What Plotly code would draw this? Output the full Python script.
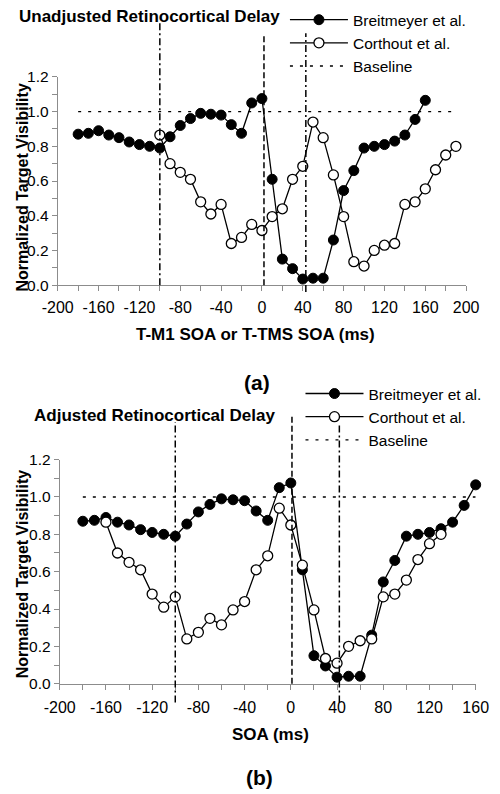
import plotly.graph_objects as go

W, H = 500, 794

# ---------------- data ----------------
soa_breitmeyer = [-180, -170, -160, -150, -140, -130, -120, -110, -100, -90, -80, -70, -60, -50, -40,
                  -30, -20, -10, 0, 10, 20, 30, 40, 50, 60, 70, 80, 90, 100, 110, 120, 130, 140, 150, 160]
vis_breitmeyer = [0.87, 0.875, 0.89, 0.865, 0.85, 0.825, 0.81, 0.80, 0.79, 0.855, 0.92, 0.96, 0.99, 0.985,
                  0.98, 0.925, 0.875, 1.05, 1.075, 0.61, 0.15, 0.095, 0.035, 0.04, 0.04, 0.26, 0.545, 0.66,
                  0.79, 0.80, 0.81, 0.83, 0.865, 0.955, 1.065]

soa_corthout_unadj = [-100, -90, -80, -70, -60, -50, -40, -30, -20, -10, 0, 10, 20, 30, 40, 50, 60, 70, 80,
                      90, 100, 110, 120, 130, 140, 150, 160, 170, 180, 190]
soa_corthout_adj = [-160, -150, -140, -130, -120, -110, -100, -90, -80, -70, -60, -50, -40, -30, -20, -10,
                    0, 10, 20, 30, 40, 50, 60, 70, 80, 90, 100, 110, 120, 130]
vis_corthout = [0.865, 0.70, 0.65, 0.61, 0.48, 0.41, 0.465, 0.24, 0.275, 0.35, 0.315, 0.395, 0.44, 0.61,
                0.685, 0.94, 0.85, 0.635, 0.395, 0.135, 0.11, 0.20, 0.23, 0.24, 0.465, 0.48, 0.555, 0.665,
                0.75, 0.80]

baseline_x_top = [-180, 190]
baseline_x_bot = [-180, 160]
baseline_y = [1.0, 1.0]

vlines_top = [(-100, "dashdot"), (2, "dash"), (43, "dashdot")]
vlines_bot = [(-100, "dashdot"), (1, "dash"), (42, "dashdot")]

x_ticks_top = [-200, -160, -120, -80, -40, 0, 40, 80, 120, 160, 200]
x_ticks_bot = [-200, -160, -120, -80, -40, 0, 40, 80, 120, 160]
y_ticks = [0.0, 0.2, 0.4, 0.6, 0.8, 1.0, 1.2]

# ---------------- layout helpers ----------------
# the photographed page appears slightly shrunk/offset; convert target picture px -> page px
def tx(t):
    return (t - 14) / 0.948

def ty(t):
    return (t - 3.5) / 0.987

def px(p):
    return p / W

def py(p):
    return 1 - p / H

FONT = "Liberation Sans, Arial, sans-serif"
DASHES = {"dashdot": "7px,3px,2px,3px", "dash": "6px,3px"}
BASE_DASH = "3px,7px"

fig = go.Figure()

def add_series(xa, ya, legend, x_b, x_c, x_base):
    fig.add_trace(go.Scatter(
        x=x_b, y=vis_breitmeyer, name="Breitmeyer et al.", mode="lines+markers",
        line=dict(color="black", width=1.3),
        marker=dict(symbol="circle", size=10, color="black", line=dict(color="black", width=1)),
        xaxis=xa, yaxis=ya, legend=legend, cliponaxis=False))
    fig.add_trace(go.Scatter(
        x=x_c, y=vis_corthout, name="Corthout et al.", mode="lines+markers",
        line=dict(color="black", width=1.3),
        marker=dict(symbol="circle", size=10, color="white", line=dict(color="black", width=1.3)),
        xaxis=xa, yaxis=ya, legend=legend, cliponaxis=False))
    fig.add_trace(go.Scatter(
        x=x_base, y=baseline_y, name="Baseline", mode="lines",
        line=dict(color="black", width=1.3, dash=BASE_DASH),
        xaxis=xa, yaxis=ya, legend=legend))

add_series("x", "y", "legend", soa_breitmeyer, soa_corthout_unadj, baseline_x_top)
add_series("x2", "y2", "legend2", soa_breitmeyer, soa_corthout_adj, baseline_x_bot)

# plot areas (page px)
top_x = (tx(56), tx(467))
top_y = (ty(72), ty(282))
bot_x = (tx(58), 488)
bot_y = (ty(458), ty(684))

axis_common = dict(
    showgrid=False, zeroline=False, showline=True, linecolor="#8c8c8c", linewidth=1,
    ticks="outside", ticklen=5, tickcolor="#8c8c8c", tickwidth=1,
    tickfont=dict(family=FONT, size=16, color="black"),
)
ytick_font = dict(family=FONT, size=15.5, color="black")
minor_common = dict(ticks="outside", ticklen=5, tickcolor="#8c8c8c")

fig.update_layout(
    width=W, height=H, plot_bgcolor="white", paper_bgcolor="white",
    margin=dict(l=0, r=0, t=0, b=0),
    font=dict(family=FONT, color="black"),
    xaxis=dict(domain=[px(top_x[0]), px(top_x[1])], range=[-200, 200], anchor="y",
               tickvals=x_ticks_top, ticktext=[str(v) for v in x_ticks_top], ticklabelstandoff=3,
               minor=dict(dtick=20, **minor_common), **axis_common),
    yaxis=dict(domain=[py(top_y[1]), py(top_y[0])], range=[0, 1.2], anchor="x",
               tickvals=y_ticks, ticktext=[f"{v:.1f}" for v in y_ticks],
               minor=dict(dtick=0.1, **minor_common), **{**axis_common, "tickfont": ytick_font}),
    xaxis2=dict(domain=[px(bot_x[0]), px(bot_x[1])], range=[-200, 160], anchor="y2",
                tickvals=x_ticks_bot, ticktext=[str(v) for v in x_ticks_bot], ticklabelstandoff=4,
                minor=dict(dtick=20, **minor_common), **axis_common),
    yaxis2=dict(domain=[py(bot_y[1]), py(bot_y[0])], range=[0, 1.2], anchor="x2",
                tickvals=y_ticks, ticktext=[f"{v:.1f}" for v in y_ticks],
                minor=dict(dtick=0.1, **minor_common), **{**axis_common, "tickfont": ytick_font}),
    legend=dict(x=px(285.5), y=py(-6), xanchor="left", yanchor="top", bgcolor="rgba(0,0,0,0)",
                font=dict(family=FONT, size=15.5, color="black"), itemwidth=58, tracegroupgap=0),
    legend2=dict(x=px(302), y=py(376), xanchor="left", yanchor="top", bgcolor="rgba(0,0,0,0)",
                 font=dict(family=FONT, size=15.5, color="black"), itemwidth=58, tracegroupgap=0),
    showlegend=True,
)

# vertical lines: x in data units, vertical extent in paper (picture px)
top_ext = {-100: (282, 15), 2: (282, 28), 43: (289, 28)}
for (xv, style) in vlines_top:
    y0p, y1p = top_ext[xv]
    fig.add_shape(type="line", xref="x", yref="paper", x0=xv, x1=xv, y0=py(ty(y0p)), y1=py(ty(y1p)),
                  line=dict(color="black", width=1.5, dash=DASHES[style]))
bot_ext = {-100: (703, 420), 1: (684, 414), 42: (703, 423)}
for (xv, style) in vlines_bot:
    y0p, y1p = bot_ext[xv]
    fig.add_shape(type="line", xref="x2", yref="paper", x0=xv, x1=xv, y0=py(ty(y0p)), y1=py(ty(y1p)),
                  line=dict(color="black", width=1.5, dash=DASHES[style]))

def ann(text, x, y, size, bold=True, angle=0, xanchor="center"):
    fig.add_annotation(text=f"<b>{text}</b>" if bold else text, x=px(x), y=py(y), xref="paper", yref="paper",
                       showarrow=False, xanchor=xanchor, yanchor="middle", textangle=angle,
                       font=dict(family=FONT, size=size, color="black"))

ann("Unadjusted Retinocortical Delay", tx(15), ty(11), 17, xanchor="left")
ann("T-M1 SOA or T-TMS SOA (ms)", tx(255), ty(332), 17)
ann("Normalized Target Visibility", 7, ty(184), 16, angle=-90)
ann("(a)", tx(257), ty(380), 21)

ann("Adjusted Retinocortical Delay", tx(30), ty(413), 17, xanchor="left")
ann("SOA (ms)", tx(270), ty(735), 17)
ann("Normalized Target Visibility", 7, ty(574), 16, angle=-90)
ann("(b)", tx(259), 785, 21)

fig.write_html(
    "out.html",
    config={"displayModeBar": False},
    post_script=("document.documentElement.style.margin='0';"
                 "document.documentElement.style.overflow='hidden';"
                 "document.body.style.margin='0';document.body.style.padding='0';"
                 "document.body.style.overflow='hidden';"),
)
